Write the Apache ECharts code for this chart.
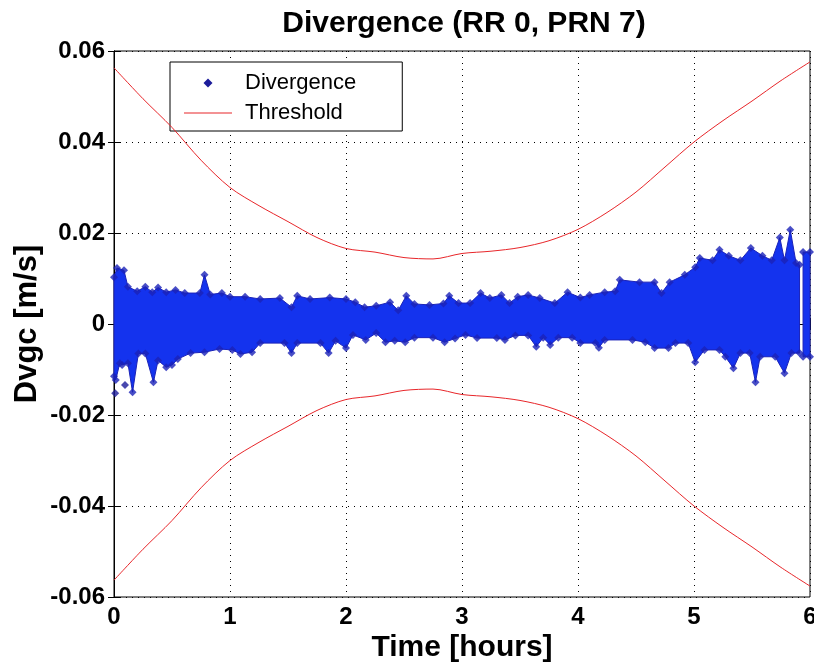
<!DOCTYPE html>
<html>
<head>
<meta charset="utf-8">
<script src="https://cdn.jsdelivr.net/npm/echarts@6/dist/echarts.min.js"></script>
<style>
html,body{margin:0;padding:0;background:#fff;}
#chart{width:814px;height:669px;}
</style>
</head>
<body>
<div id="chart"></div>
<script>
// ---- Data ----
// Threshold curve (upper; lower is its negative)
var thrTime = [0, 0.25, 0.5, 0.75, 1, 1.25, 1.5, 1.75, 2, 2.25, 2.5, 2.75, 3, 3.25, 3.5, 3.75, 4, 4.25, 4.5, 4.75, 5, 5.25, 5.5, 5.75, 6];
var thrValue = [0.0563, 0.0495, 0.0432, 0.0360, 0.0300, 0.0260, 0.0225, 0.0190, 0.0166, 0.0158, 0.0146, 0.0143, 0.0155, 0.0160, 0.0168, 0.0183, 0.0208, 0.0245, 0.0290, 0.0345, 0.0400, 0.0447, 0.0490, 0.0535, 0.0576];

// Divergence scatter envelope (upper edge), null = gap in the data
var divUpperTime = [0, 0.026, 0.086, 0.12, 0.2, 0.27, 0.33, 0.38, 0.45, 0.53, 0.61, 0.74, 0.78, 0.83, 0.93, 1.0, 1.13, 1.26, 1.43, 1.53, 1.58, 1.69, 1.86, 2.0, 2.08, 2.16, 2.26, 2.38, 2.45, 2.52, 2.59, 2.72, 2.84, 2.89, 2.97, 3.07, 3.16, 3.24, 3.34, 3.41, 3.48, 3.57, 3.67, 3.80, 3.91, 4.02, 4.10, 4.23, 4.32, 4.36, 4.53, 4.66, 4.72, 4.79, 4.92, 5.01, 5.05, 5.16, 5.22, 5.30, 5.40, 5.49, 5.59, 5.67, 5.74, 5.78, 5.83, 5.88, 5.91, null, 5.94, 6.0];
var divUpperValue = [0.0103, 0.0123, 0.0118, 0.0082, 0.0072, 0.0082, 0.0070, 0.0080, 0.0070, 0.0075, 0.0068, 0.0068, 0.0108, 0.0065, 0.0068, 0.0060, 0.0060, 0.0055, 0.0057, 0.0037, 0.0062, 0.0055, 0.0058, 0.0055, 0.0048, 0.0037, 0.0040, 0.0048, 0.0030, 0.0062, 0.0044, 0.0042, 0.0045, 0.0062, 0.0046, 0.0046, 0.0068, 0.0057, 0.0064, 0.0046, 0.0060, 0.0064, 0.0057, 0.0046, 0.0070, 0.0058, 0.0064, 0.0070, 0.0072, 0.0097, 0.0092, 0.0092, 0.0068, 0.0092, 0.0108, 0.0125, 0.0145, 0.0140, 0.0163, 0.0150, 0.0140, 0.0167, 0.0150, 0.0140, 0.0190, 0.0140, 0.0207, 0.0134, 0.0130, null, 0.0158, 0.0158];

// Divergence scatter envelope (lower edge)
var divLowerTime = [0, 0.015, 0.05, 0.07, 0.12, 0.16, 0.21, 0.27, 0.34, 0.38, 0.45, 0.5, 0.55, 0.66, 0.78, 0.91, 1.02, 1.09, 1.19, 1.26, 1.47, 1.53, 1.58, 1.78, 1.85, 1.91, 2.0, 2.06, 2.17, 2.26, 2.34, 2.42, 2.51, 2.59, 2.75, 2.85, 2.94, 3.03, 3.13, 3.30, 3.37, 3.46, 3.57, 3.64, 3.70, 3.76, 3.83, 3.95, 4.02, 4.15, 4.18, 4.23, 4.47, 4.58, 4.66, 4.78, 4.84, 4.95, 5.01, 5.09, 5.22, 5.27, 5.34, 5.40, 5.48, 5.53, 5.57, 5.70, 5.78, 5.84, 5.91, null, 5.94, 6.0];
var divLowerValue = [-0.0115, -0.0123, -0.0086, -0.0090, -0.0086, -0.0150, -0.0065, -0.0065, -0.0128, -0.0080, -0.0095, -0.0090, -0.0077, -0.0064, -0.0062, -0.0055, -0.0057, -0.0066, -0.0062, -0.0042, -0.0042, -0.0064, -0.0042, -0.0042, -0.0064, -0.0037, -0.0053, -0.0024, -0.0035, -0.0020, -0.0040, -0.0037, -0.0040, -0.0030, -0.0030, -0.0040, -0.0032, -0.0024, -0.0031, -0.0031, -0.0035, -0.0025, -0.0025, -0.0050, -0.0030, -0.0046, -0.0030, -0.0030, -0.0042, -0.0042, -0.0052, -0.0035, -0.0035, -0.0040, -0.0053, -0.0053, -0.0042, -0.0042, -0.0084, -0.0057, -0.0057, -0.0072, -0.0097, -0.0064, -0.0064, -0.0128, -0.0072, -0.0072, -0.0108, -0.0064, -0.0064, null, -0.0072, -0.0072];

// Isolated divergence points
var divOutlierTime = [0.01, 0.095];
var divOutlierValue = [-0.0152, -0.0134];

// Axis ticks
var xTicks = [0, 1, 2, 3, 4, 5, 6];
var yTicks = [-0.06, -0.04, -0.02, 0, 0.02, 0.04, 0.06];

// ---- Build series data ----
function pairs(ts, vs) {
  var out = [];
  for (var i = 0; i < ts.length; i++) out.push(ts[i] === null ? null : [ts[i], vs[i]]);
  return out;
}
function splitSegments(ts, vs) {
  var segs = [[]];
  for (var i = 0; i < ts.length; i++) {
    if (ts[i] === null) { segs.push([]); continue; }
    segs[segs.length - 1].push([ts[i], vs[i]]);
  }
  return segs;
}
var upperSegs = splitSegments(divUpperTime, divUpperValue);
var lowerSegs = splitSegments(divLowerTime, divLowerValue);
var edgePoints = [];
pairs(divUpperTime, divUpperValue).concat(pairs(divLowerTime, divLowerValue)).forEach(function (p) { if (p) edgePoints.push(p); });
var outliers = pairs(divOutlierTime, divOutlierValue);
var thrUpper = thrTime.map(function (t, i) { return [t, thrValue[i]]; });
var thrLower = thrTime.map(function (t, i) { return [t, -thrValue[i]]; });

var FONT = 'Liberation Sans, Arial, Helvetica, sans-serif';
var BAND = '#1433ee';
var EDGE = '#1a22b8';
var RED = '#e8262a';

var chart = echarts.init(document.getElementById('chart'), null, {renderer: 'canvas'});
var axisCommon = {
  axisLine: {show: true, lineStyle: {color: '#000', width: 1}},
  axisTick: {show: true, inside: true, length: 6, lineStyle: {color: '#000'}}
};
chart.setOption({
  animation: false,
  backgroundColor: '#fff',
  title: {
    text: 'Divergence (RR 0, PRN 7)',
    left: 459, top: 4, textAlign: 'center',
    textStyle: {fontFamily: FONT, fontSize: 30, fontWeight: 'bold', color: '#000'}
  },
  legend: {
    left: 170, top: 62, orient: 'vertical',
    backgroundColor: '#fff', borderColor: '#000', borderWidth: 1,
    padding: [10, 46, 7, 14],
    itemWidth: 48, itemHeight: 9, itemGap: 8,
    symbolKeepAspect: true,
    textStyle: {fontFamily: FONT, fontSize: 22, color: '#000', padding: [0, 0, 0, 8]},
    data: [
      {name: 'Divergence', icon: 'path://M5,0 L10,5 L5,10 L0,5 Z', itemStyle: {color: '#1c1c9a'}},
      {name: 'Threshold', icon: 'path://M0,0 L48,0 L48,1 L0,1 Z', itemStyle: {color: RED}}
    ]
  },
  grid: {left: 114, right: 4, top: 51, bottom: 72, outerBoundsMode: 'none', show: true, borderColor: '#000', borderWidth: 1, backgroundColor: '#fff'},
  xAxis: [
    Object.assign({
      type: 'value', min: xTicks[0], max: xTicks[xTicks.length - 1], interval: 1,
      name: 'Time [hours]', nameLocation: 'middle', nameGap: 36, nameMoveOverlap: false,
      nameTextStyle: {fontFamily: FONT, fontSize: 30, fontWeight: 'bold', color: '#000'},
      axisLabel: {fontFamily: FONT, fontSize: 24, fontWeight: 'bold', color: '#000', margin: 8},
      splitLine: {show: true, lineStyle: {color: '#000', type: [1, 5], width: 1}}
    }, axisCommon),
    Object.assign({
      type: 'value', position: 'top', min: xTicks[0], max: xTicks[xTicks.length - 1], interval: 1,
      axisLabel: {show: false}, splitLine: {show: false}
    }, axisCommon)
  ],
  yAxis: [
    Object.assign({
      type: 'value', min: yTicks[0], max: yTicks[yTicks.length - 1], interval: 0.02,
      name: 'Dvgc [m/s]', nameLocation: 'middle', nameGap: 71, nameRotate: 90, nameMoveOverlap: false,
      nameTextStyle: {fontFamily: FONT, fontSize: 31, fontWeight: 'bold', color: '#000'},
      axisLabel: {
        fontFamily: FONT, fontSize: 24, fontWeight: 'bold', color: '#000', margin: 9,
        formatter: function (v) { return Math.abs(v) < 1e-9 ? '0' : v.toFixed(2); }
      },
      splitLine: {show: true, lineStyle: {color: '#000', type: [1, 5], width: 1}}
    }, axisCommon),
    Object.assign({
      type: 'value', position: 'right', min: yTicks[0], max: yTicks[yTicks.length - 1], interval: 0.02,
      axisLabel: {show: false}, splitLine: {show: false}
    }, axisCommon)
  ],
  series: [
    {
      name: 'Divergence', type: 'custom', z: 2,
      data: [[3, 0]],
      renderItem: function (params, api) {
        var children = [];
        for (var s = 0; s < upperSegs.length; s++) {
          var pts = upperSegs[s].map(function (p) { return api.coord(p); });
          var low = lowerSegs[s].map(function (p) { return api.coord(p); }).reverse();
          children.push({
            type: 'polygon',
            shape: {points: pts.concat(low)},
            style: {fill: BAND, stroke: EDGE, lineWidth: 1}
          });
        }
        return {type: 'group', children: children};
      }
    },
    {
      name: 'Divergence', type: 'scatter', z: 3,
      symbol: 'diamond', symbolSize: 8,
      itemStyle: {color: EDGE},
      data: edgePoints
    },
    {
      name: 'Divergence', type: 'scatter', z: 3,
      symbol: 'diamond', symbolSize: 8,
      itemStyle: {color: '#1c1c9a'},
      data: outliers
    },
    {
      name: 'Threshold', type: 'line', z: 4, smooth: 0.3,
      symbol: 'none', lineStyle: {color: RED, width: 1},
      itemStyle: {color: RED},
      data: thrUpper
    },
    {
      name: 'Threshold', type: 'line', z: 4, smooth: 0.3,
      symbol: 'none', lineStyle: {color: RED, width: 1},
      itemStyle: {color: RED},
      data: thrLower
    }
  ]
});
</script>
</body>
</html>
